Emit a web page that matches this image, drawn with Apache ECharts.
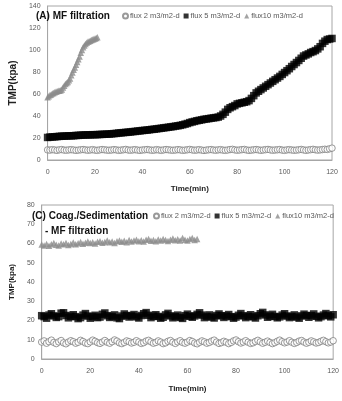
<!DOCTYPE html>
<html><head><meta charset="utf-8">
<script src="https://cdn.jsdelivr.net/npm/echarts@6/dist/echarts.min.js"></script>
<style>html,body{margin:0;padding:0;background:#fff}#c{width:342px;height:401px}</style>
</head><body><div id="c"></div>
<script>
// ---- data ----
const seriesNames = ['flux 2 m3/m2-d', 'flux 5 m3/m2-d', 'flux10 m3/m2-d'];
const xTicks = [0, 20, 40, 60, 80, 100, 120];
const stepMain = 1;      // min between samples (flux 2, flux 5, bottom flux10)
const stepTopF10 = 0.5;  // min between samples (top flux10)

// (A) MF filtration
const aFlux2 = [9.2,9,9.4,9.1,8.8,9.3,9.5,9,8.9,9.2,9.4,9.1,8.8,9,9.3,9.5,9.2,8.9,9.1,9.4,9,8.8,9.2,9.5,9.3,9,8.9,9.1,9.4,9.2,8.8,9,9.3,9.6,9.1,8.9,9.2,9.4,9,8.8,9.1,9.3,9.5,9.2,8.9,9,9.4,9.1,8.8,9.2,9.5,9.3,9,8.9,9.1,9.4,9.2,8.8,9,9.3,9.6,9.2,8.9,9.1,9.4,9,8.7,9,9.3,9.5,9.1,8.9,9.2,9.4,9,8.8,9.1,9.5,9.7,9.2,8.9,9.1,9.4,9.6,9.1,8.8,9,9.3,9.5,9.2,8.8,9.1,9.4,9.6,9.2,8.9,9.1,9.3,9.5,9,8.8,9.2,9.4,9.1,8.9,9,9.3,9.6,9.2,8.8,9.1,9.4,9.7,9.3,9,9.2,9.5,9.8,9.6,10.2,10.8];
const aFlux5 = [20.5,20.8,21,21.1,21.3,21.5,21.6,21.7,21.8,22,22,
  22.1,22.3,22.4,22.5,22.7,22.8,22.8,22.9,23,23,
  23.1,23.2,23.3,23.4,23.5,23.6,23.8,24,24.2,24.5,
  24.7,24.9,25.1,25.3,25.5,25.8,26,26.3,26.5,26.8,
  27,27.2,27.5,27.8,28,28.3,28.6,28.9,29.2,29.5,
  29.8,30.1,30.4,30.8,31.1,31.5,32,32.6,33.2,34,
  34.6,35.1,35.7,36.1,36.5,37,37.3,37.6,38,38.3,
  38.6,39,40,41.5,43.5,46,47.5,48.5,49.5,51,
  51.5,52,52.5,53,54,56,58.5,61,62.5,64,
  65.5,67,68.5,70,71.5,73,74.5,76,77.8,79.5,
  81.2,83,85,86.8,88.6,90.5,92.5,94.5,95.5,96.5,
  97.7,98.5,99.5,101,103,106,108,109.5,110,110.5];
const aFlux10 = [57,58,59,59.5,60.5,61,61.5,62,62.5,63,63,63.5,64,66,67.5,69,70,71,72.5,74,77,79.5,82,84,86.5,89,91.5,94,97.5,100,102.5,104,105.5,106.5,107.5,108,108.5,109,109.5,110,110.5,111,111.5];

// (C) Coag./Sedimentation - MF filtration
const cFlux2 = [8.8,9.4,8.2,9,9.8,8.6,8,8.9,9.6,8.4,7.9,8.8,9.5,9,8.2,8.7,9.7,9.1,8.3,8,8.9,9.8,9.2,8.5,8.1,8.8,9.6,8.7,8.2,9,9.9,9.3,8.4,8,8.6,9.4,9,8.3,8.7,9.5,8.8,8.1,8.5,9.3,9.7,8.9,8.2,8.6,9.4,8.8,8,8.4,9.2,9.6,8.7,8.1,8.9,9.5,8.6,8.2,8.8,9.6,9.1,8.3,7.9,8.7,9.4,8.9,8.2,8.6,9.3,9.8,8.8,8.1,8.5,9.2,8.7,8,8.6,9.4,9.9,9,8.3,8.8,9.5,8.7,8.1,8.4,9.1,9.7,8.9,8.2,8.7,9.3,8.6,8,8.5,9.2,9.8,9,8.4,8.8,9.5,8.7,8.1,8.6,9.3,9.6,8.8,8.2,8.7,9.4,8.9,8.3,8.6,9.2,9.7,9,8.4,8.8,9.5,9.2];
const cFlux5 = [22.5,22,21.2,22.8,23.5,22.4,21.6,22,23.8,24,22.6,21.4,22.2,23,22,21,21.5,22.8,23.6,22.3,21.2,22,22.7,21.5,21.8,23.2,23.9,22.5,21.6,22.1,22.9,21.4,21,22.3,23.4,22.6,21.8,22.4,23.1,21.9,21.3,22.6,23.5,24.1,22.7,21.5,22.2,23,22.1,21.2,21.7,22.9,23.7,22.4,21.4,22,22.8,21.6,21.1,22.5,23.3,22.2,21.7,22.4,23.2,24,22.8,21.5,22.1,22.9,21.8,21.3,22.6,23.4,22.5,21.6,22.3,23.1,22,21.2,21.8,22.7,23.6,22.4,21.5,22.2,23,21.9,21.3,22.5,23.5,24.2,22.9,21.7,22.3,23.2,22.1,21.4,21.9,22.8,23.5,22.3,21.5,22.1,22.9,21.8,21.2,22.4,23.3,22.6,21.7,22.5,23.4,22.2,21.4,22,22.8,23.6,22.5,21.9,23];
const cFlux10 = [59.5,59,59.8,58.8,59.6,60.2,59.4,59,60,59.6,60.3,59.2,59.8,60.5,59.6,60.1,60.8,59.9,60.4,61,60.2,60.7,60,60.9,61.2,60.4,60.8,61.5,60.6,61,60.3,61.2,61.6,60.9,61.4,60.7,61.8,61.1,61.5,62,61.2,61.7,61,61.9,62.3,61.4,61.8,61.2,62.1,61.6,62.4,61.8,61.3,62,62.6,61.7,62.2,61.5,62.8,62,61.6,62.4,62.9,61.8,62.3];

// ---- build ----
function pairs(vals, step) { return vals.map((v, i) => [i * step, v]); }
const FONT = 'Liberation Sans';
const labelFont = {color: '#595959', fontSize: 7, fontFamily: FONT};
const borderGray = '#a6a6a6';
const styles = [
  {symbol: 'circle', size: 6.5, itemStyle: {color: '#fff', borderColor: '#808080', borderWidth: 1}},
  {symbol: 'rect', size: 7.5, itemStyle: {color: '#000'}},
  {symbol: 'triangle', size: 6.5, itemStyle: {color: '#8c8c8c'}}
];
function mk(name, idx, data, gi) {
  const s = styles[idx];
  return {type: 'scatter', name, data, xAxisIndex: gi, yAxisIndex: gi,
    symbol: s.symbol, symbolSize: s.size, itemStyle: s.itemStyle, animation: false,
    emphasis: {disabled: true}};
}
function xAx(gi, nameGap) {
  return {type: 'value', gridIndex: gi, min: 0, max: 120, interval: 20,
    name: 'Time(min)', nameLocation: 'middle', nameGap,
    nameTextStyle: {fontWeight: 'bold', fontSize: 8, color: '#222', fontFamily: FONT},
    axisLine: {lineStyle: {color: borderGray}}, axisTick: {show: false},
    splitLine: {show: false}, axisLabel: Object.assign({margin: 9}, labelFont)};
}
function yAx(gi, max, interval, nameGap, nameSize) {
  return {type: 'value', gridIndex: gi, min: 0, max, interval,
    name: 'TMP(kpa)', nameLocation: 'middle', nameGap,
    nameTextStyle: {fontWeight: 'bold', fontSize: nameSize, color: '#222', fontFamily: FONT},
    axisLine: {show: true, lineStyle: {color: borderGray}}, axisTick: {show: false},
    splitLine: {show: false}, axisLabel: Object.assign({margin: 7}, labelFont)};
}
const legendIcons = ['circle', 'rect', 'triangle'];
function legend(left, top) {
  return {left, top, itemWidth: 5, itemHeight: 5, itemGap: 4, padding: 0,
    textStyle: {color: '#595959', fontSize: 7.5, fontFamily: FONT, padding: [0, 0, 0, -3]},
    data: seriesNames.map((n, i) => ({name: n, icon: legendIcons[i]})), selectedMode: false};
}
const titleFont = {fontWeight: 'bold', fontSize: 10, color: '#111', fontFamily: FONT};

const chart = echarts.init(document.getElementById('c'), null, {renderer: 'canvas'});
chart.setOption({
  backgroundColor: '#fff',
  animation: false,
  title: [
    {text: '(A) MF filtration', left: 36, top: 11, textStyle: titleFont, padding: 0},
    {text: '(C) Coag./Sedimentation', left: 32, top: 211, textStyle: titleFont, padding: 0},
    {text: '- MF filtration', left: 45, top: 226, textStyle: titleFont, padding: 0}
  ],
  legend: [legend(122, 12), legend(153, 212)],
  grid: [
    {left: 30, width: 302, top: 6, height: 154, show: true, borderColor: borderGray, borderWidth: 1, backgroundColor: '#fff'},
    {left: 27, width: 308, top: 205, height: 154, show: true, borderColor: borderGray, borderWidth: 1, backgroundColor: '#fff'}
  ],
  xAxis: [xAx(0, 25), xAx(1, 26)],
  yAxis: [yAx(0, 140, 20, 28, 10), yAx(1, 80, 10, 25, 8)],
  series: [
    mk(seriesNames[0], 0, pairs(aFlux2, stepMain), 0),
    mk(seriesNames[1], 1, pairs(aFlux5, stepMain), 0),
    mk(seriesNames[2], 2, pairs(aFlux10, stepTopF10), 0),
    mk(seriesNames[0], 0, pairs(cFlux2, stepMain), 1),
    mk(seriesNames[1], 1, pairs(cFlux5, stepMain), 1),
    mk(seriesNames[2], 2, pairs(cFlux10, stepMain), 1)
  ]
});
</script></body></html>
